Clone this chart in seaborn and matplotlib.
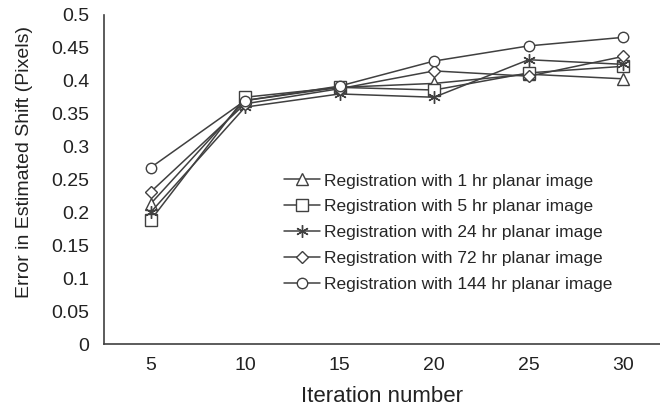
import matplotlib
matplotlib.use('Agg')
import seaborn as sns
import matplotlib.pyplot as plt

# data
iterations = [5, 10, 15, 20, 25, 30]
err_1hr = [0.213, 0.370, 0.390, 0.396, 0.410, 0.403]
err_5hr = [0.188, 0.375, 0.390, 0.386, 0.412, 0.422]
err_24hr = [0.200, 0.360, 0.380, 0.375, 0.432, 0.425]
err_72hr = [0.231, 0.365, 0.388, 0.415, 0.407, 0.437]
err_144hr = [0.268, 0.370, 0.392, 0.430, 0.453, 0.466]

labels = ['Registration with 1 hr planar image',
          'Registration with 5 hr planar image',
          'Registration with 24 hr planar image',
          'Registration with 72 hr planar image',
          'Registration with 144 hr planar image']
series = [err_1hr, err_5hr, err_24hr, err_72hr, err_144hr]
markers = ['^', 's', (6, 2, 0), 'D', 'o']
msizes = [8, 8, 9, 6, 7.5]

sns.set_style('white')
plt.rcParams['font.family'] = ['Liberation Sans', 'DejaVu Sans']

fig = plt.figure(figsize=(6.6, 4.16), dpi=100)
ax = fig.add_axes([0.158, 0.173, 0.842, 0.791])

line_col = '#404040'
for vals, lab, m, ms in zip(series, labels, markers, msizes):
    sns.lineplot(x=iterations, y=vals, ax=ax, color=line_col, linewidth=1.1,
                 marker=m, markersize=ms, markerfacecolor='white',
                 markeredgecolor=line_col, markeredgewidth=1.0, label=lab)

ax.set_xlim(2.55, 31.95)
ax.set_ylim(0, 0.5)
ax.set_xticks(iterations)
ax.set_yticks([i * 0.05 for i in range(11)])
ax.set_yticklabels(['0', '0.05', '0.1', '0.15', '0.2', '0.25', '0.3',
                    '0.35', '0.4', '0.45', '0.5'])

for s in ['top', 'right']:
    ax.spines[s].set_visible(False)
for s in ['left', 'bottom']:
    ax.spines[s].set_color('#404040')
    ax.spines[s].set_linewidth(1.2)

ax.tick_params(axis='y', direction='inout', length=10, width=1.2,
               color='#404040', labelsize=14, labelcolor='#222222', pad=6)
ax.tick_params(axis='x', length=0, labelsize=14, labelcolor='#222222', pad=9)

ax.set_xlabel('Iteration number', fontsize=16, color='#222222', labelpad=9)
ax.set_ylabel('Error in Estimated Shift (Pixels)', fontsize=14, color='#222222')
ax.yaxis.set_label_coords(-0.128, 0.553)

ax.legend(loc='upper left', bbox_to_anchor=(0.417, 0.604), bbox_transform=fig.transFigure,
          frameon=False, fontsize=12.5, handlelength=2.1, handletextpad=0.2,
          labelspacing=0.62, borderpad=0)

fig.savefig('out.png', dpi=100)
